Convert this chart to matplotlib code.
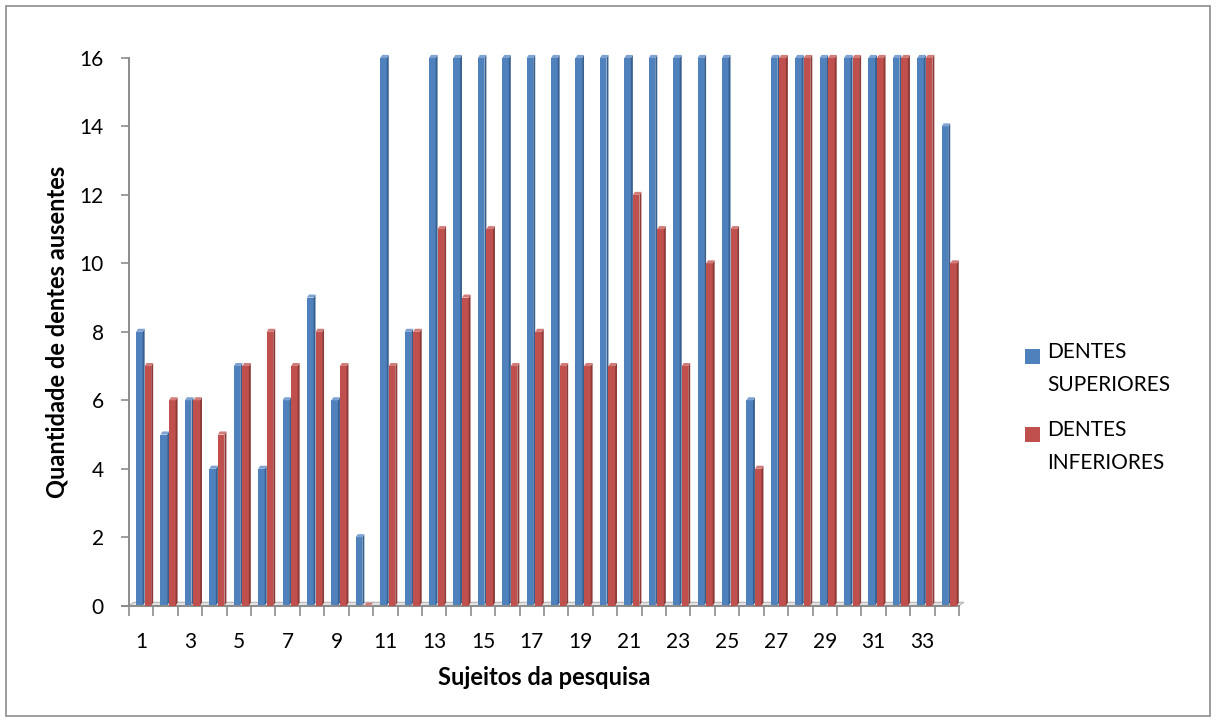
import numpy as np
import matplotlib.pyplot as plt
from matplotlib.patches import Polygon, Rectangle

plt.rcParams['font.family'] = ['Lato', 'DejaVu Sans']

# missing teeth per subject
sujeitos = list(range(1, 35))
superiores = [8, 5, 6, 4, 7, 4, 6, 9, 6, 2, 16, 8, 16, 16, 16, 16, 16,
              16, 16, 16, 16, 16, 16, 16, 16, 6, 16, 16, 16, 16, 16, 16, 16, 14]
inferiores = [7, 6, 6, 5, 7, 8, 7, 8, 7, 0, 7, 8, 11, 9, 11, 7, 8,
              7, 7, 7, 12, 11, 7, 10, 11, 4, 16, 16, 16, 16, 16, 16, 16, 10]
yticks = [0, 2, 4, 6, 8, 10, 12, 14, 16]
series = [('DENTES\nSUPERIORES', superiores, '#4F81BD', '#375F8F', '#7EA3D2'),
          ('DENTES\nINFERIORES', inferiores, '#C0504D', '#8E3936', '#D27C79')]

W, H = 1216, 722
fig = plt.figure(figsize=(W / 100, H / 100), dpi=100)
fig.patches.append(Rectangle((6 / W, 6 / H), 1204 / W, 710 / H,
                             transform=fig.transFigure, fill=False,
                             edgecolor='#8c8c8c', linewidth=1.2))
ax = fig.add_axes([129 / W, 116.3 / H, 830 / W, 547.7 / H])

x = np.arange(len(sujeitos))
front = 0.27   # width of the front face
dx, dy = 0.08, 0.09   # fake depth offset

for i, (name, vals, col, dark, light) in enumerate(series):
    left = x - 0.21 + i * (front + dx)
    bars = ax.bar(left, vals, width=front, align='edge', color=col,
                  edgecolor='none', zorder=2 + i)
    for b in bars:
        b.set_clip_on(False)
    for xl, v in zip(left, vals):
        xr = xl + front
        # right side of the column
        ax.add_patch(Polygon([(xr, 0), (xr + dx, dy), (xr + dx, v + dy), (xr, v)],
                             closed=True, facecolor=dark, edgecolor='none',
                             zorder=2 + i, clip_on=False))
        # top face
        ax.add_patch(Polygon([(xl, v), (xr, v), (xr + dx, v + dy), (xl + dx, v + dy)],
                             closed=True, facecolor=light, edgecolor='none',
                             zorder=2 + i, clip_on=False))

# floor of the plot
ax.add_patch(Polygon([(-0.5, 0), (33.5, 0), (33.5 + 0.2, 0.1), (-0.5 + 0.2, 0.1)],
                     closed=True, facecolor='#e3e3e3', edgecolor='#b5b5b5',
                     linewidth=0.8, zorder=1, clip_on=False))

ax.set_xlim(-0.5, 33.5)
ax.set_ylim(0, 16)
ax.set_yticks(yticks)
ax.set_xticks(np.arange(-0.5, 34, 1), minor=False)
ax.set_xticklabels([])
ax.set_xticks(x[::2], minor=True)
ax.set_xticklabels([str(s) for s in sujeitos[::2]], minor=True)
ax.tick_params(axis='x', which='major', length=7, width=1.2, color='#8c8c8c')
ax.tick_params(axis='x', which='minor', length=0, pad=19, labelsize=15)
ax.tick_params(axis='y', length=6, width=1.2, color='#8c8c8c', pad=12, labelsize=15)

for side in ['top', 'right']:
    ax.spines[side].set_visible(False)
for side in ['left', 'bottom']:
    ax.spines[side].set_color('#8c8c8c')
    ax.spines[side].set_linewidth(1.4)
ax.spines['bottom'].set_bounds(-0.8, 33.5)

ax.set_xlabel('Sujeitos da pesquisa', fontsize=17, fontweight='bold', labelpad=10)
ax.set_ylabel('Quantidade de dentes ausentes', fontsize=17, fontweight='bold',
              labelpad=8)

# legend: colour square beside the first line of each two-line label
for k, s in enumerate(series):
    base = 358 + k * 78
    fig.patches.append(Rectangle((1025 / W, 1 - (base + 6) / H), 15 / W, 15 / H,
                                 transform=fig.transFigure, facecolor=s[2],
                                 edgecolor='none'))
    for j, line in enumerate(s[0].split('\n')):
        fig.text(1047 / W, 1 - (base + j * 33) / H, line, fontsize=15,
                 va='baseline', ha='left')

fig.savefig('out.png', dpi=100)
